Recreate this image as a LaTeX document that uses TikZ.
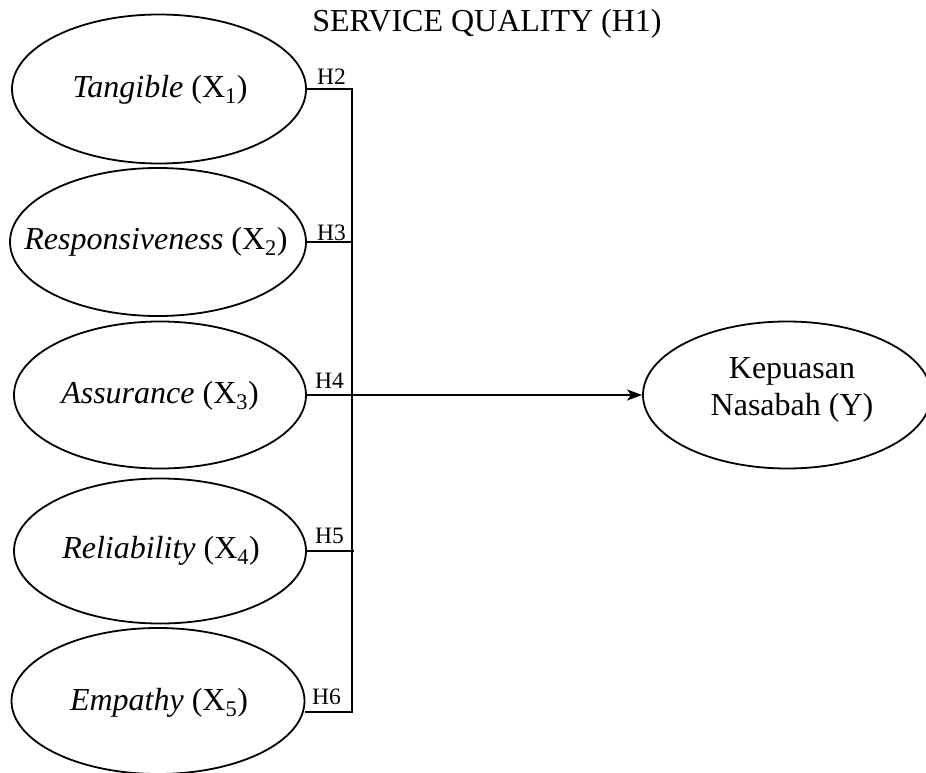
\documentclass[tikz,border=0pt]{standalone}
\usepackage{fontspec}
\setmainfont{Liberation Serif}
\usetikzlibrary{shapes.geometric,arrows.meta}
\begin{document}
\begin{tikzpicture}[x=1pt,y=-1pt,
  oval/.style={draw,ellipse,line width=1.8pt,inner sep=0pt},
  ovaltext/.style={font=\fontsize{32}{37}\selectfont,inner sep=0pt},
  hlabel/.style={font=\fontsize{23.5}{26}\selectfont,inner sep=0pt,anchor=base west},
  conn/.style={line width=1.9pt},
  arr/.style={line width=2.3pt,-{Stealth[length=15pt,width=11pt,inset=4pt]}}]
\useasboundingbox (0,0) rectangle (926,773);
% ellipses
\node[oval,minimum width=294pt,minimum height=149pt] (x1) at (159,89) {};
\node[oval,minimum width=296pt,minimum height=148pt] (x2) at (158,242) {};
\node[oval,minimum width=292pt,minimum height=147pt] (x3) at (160,395) {};
\node[oval,minimum width=292pt,minimum height=145pt] (x4) at (160,551) {};
\node[oval,minimum width=293pt,minimum height=146pt] (x5) at (158,701) {};
\node[oval,minimum width=288pt,minimum height=147pt] (y) at (787,395) {};
% texts
\node[ovaltext] (t1) at (160,90) {\textit{Tangible} (X\textsubscript{1})};
\node[ovaltext] (t2) at (156,242) {\textit{Responsiveness} (X\textsubscript{2})};
\node[ovaltext] (t3) at (160,396) {\textit{Assurance} (X\textsubscript{3})};
\node[ovaltext] (t4) at (161,551) {\textit{Reliability} (X\textsubscript{4})};
\node[ovaltext] (t5) at (159,703) {\textit{Empathy} (X\textsubscript{5})};
\node[ovaltext,align=center] (ty) at (792,390) {Kepuasan\\Nasabah (Y)};
\node[ovaltext,anchor=base] (title) at (487,32) {SERVICE QUALITY (H1)};
% hub
\coordinate (top) at (352,89);
\coordinate (bot) at (352,712);
\coordinate (j2) at (352,242);
\coordinate (j4) at (354,551);
\draw[conn] (x1.east) -- (top) -- (bot) -- (bot -| x5.east);
\draw[conn] (x2.east) -- (j2);
\draw[conn] (x4.east) -- (j4);
\draw[arr] (x3.east) -- (y.west);
% labels
\node[hlabel] (h2) at (317,85) {H2};
\node[hlabel] (h3) at (317,240) {H3};
\node[hlabel] (h4) at (315,388) {H4};
\node[hlabel] (h5) at (315,543) {H5};
\node[hlabel] (h6) at (312,704) {H6};
\end{tikzpicture}
\end{document}
